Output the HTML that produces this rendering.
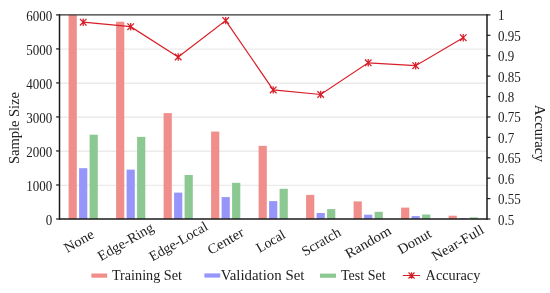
<!DOCTYPE html>
<html><head><meta charset="utf-8"><style>
html,body{margin:0;padding:0;background:#fff;width:550px;height:293px;overflow:hidden}
svg{display:block;font-family:"Liberation Serif",serif;will-change:transform}
</style></head><body>
<svg width="550" height="293" viewBox="0 0 550 293">
<rect width="550" height="293" fill="#fff"/>
<line x1="59.5" y1="185.28" x2="487.0" y2="185.28" stroke="#ebebeb" stroke-width="1.3"/>
<line x1="59.5" y1="151.27" x2="487.0" y2="151.27" stroke="#ebebeb" stroke-width="1.3"/>
<line x1="59.5" y1="117.25" x2="487.0" y2="117.25" stroke="#ebebeb" stroke-width="1.3"/>
<line x1="59.5" y1="83.23" x2="487.0" y2="83.23" stroke="#ebebeb" stroke-width="1.3"/>
<line x1="59.5" y1="49.22" x2="487.0" y2="49.22" stroke="#ebebeb" stroke-width="1.3"/>
<rect x="68.60" y="15.00" width="8.2" height="204.00" fill="#F08E8B"/>
<rect x="79.10" y="168.20" width="8.2" height="50.80" fill="#9696FA"/>
<rect x="89.60" y="134.70" width="8.2" height="84.30" fill="#8CC891"/>
<rect x="116.10" y="21.70" width="8.2" height="197.30" fill="#F08E8B"/>
<rect x="126.60" y="169.60" width="8.2" height="49.40" fill="#9696FA"/>
<rect x="137.10" y="136.90" width="8.2" height="82.10" fill="#8CC891"/>
<rect x="163.60" y="113.10" width="8.2" height="105.90" fill="#F08E8B"/>
<rect x="174.10" y="192.60" width="8.2" height="26.40" fill="#9696FA"/>
<rect x="184.60" y="175.00" width="8.2" height="44.00" fill="#8CC891"/>
<rect x="211.10" y="131.60" width="8.2" height="87.40" fill="#F08E8B"/>
<rect x="221.60" y="197.10" width="8.2" height="21.90" fill="#9696FA"/>
<rect x="232.10" y="182.80" width="8.2" height="36.20" fill="#8CC891"/>
<rect x="258.60" y="145.85" width="8.2" height="73.15" fill="#F08E8B"/>
<rect x="269.10" y="201.10" width="8.2" height="17.90" fill="#9696FA"/>
<rect x="279.60" y="188.80" width="8.2" height="30.20" fill="#8CC891"/>
<rect x="306.10" y="194.90" width="8.2" height="24.10" fill="#F08E8B"/>
<rect x="316.60" y="213.00" width="8.2" height="6.00" fill="#9696FA"/>
<rect x="327.10" y="209.10" width="8.2" height="9.90" fill="#8CC891"/>
<rect x="353.60" y="201.40" width="8.2" height="17.60" fill="#F08E8B"/>
<rect x="364.10" y="214.70" width="8.2" height="4.30" fill="#9696FA"/>
<rect x="374.60" y="211.80" width="8.2" height="7.20" fill="#8CC891"/>
<rect x="401.10" y="207.60" width="8.2" height="11.40" fill="#F08E8B"/>
<rect x="411.60" y="216.10" width="8.2" height="2.90" fill="#9696FA"/>
<rect x="422.10" y="214.50" width="8.2" height="4.50" fill="#8CC891"/>
<rect x="448.60" y="215.70" width="8.2" height="3.30" fill="#F08E8B"/>
<rect x="459.10" y="218.30" width="8.2" height="0.70" fill="#9696FA"/>
<rect x="469.60" y="217.40" width="8.2" height="1.60" fill="#8CC891"/>
<polyline points="83.20,22.20 130.70,26.70 178.20,57.00 225.70,20.60 273.20,89.90 320.70,94.50 368.20,62.80 415.70,65.70 463.20,37.70" fill="none" stroke="#D81E28" stroke-width="1.2"/>
<path d="M83.20 18.50V25.90M79.90 18.90L86.50 25.50M79.90 25.50L86.50 18.90" stroke="#D81E28" stroke-width="1.25" fill="none"/>
<path d="M130.70 23.00V30.40M127.40 23.40L134.00 30.00M127.40 30.00L134.00 23.40" stroke="#D81E28" stroke-width="1.25" fill="none"/>
<path d="M178.20 53.30V60.70M174.90 53.70L181.50 60.30M174.90 60.30L181.50 53.70" stroke="#D81E28" stroke-width="1.25" fill="none"/>
<path d="M225.70 16.90V24.30M222.40 17.30L229.00 23.90M222.40 23.90L229.00 17.30" stroke="#D81E28" stroke-width="1.25" fill="none"/>
<path d="M273.20 86.20V93.60M269.90 86.60L276.50 93.20M269.90 93.20L276.50 86.60" stroke="#D81E28" stroke-width="1.25" fill="none"/>
<path d="M320.70 90.80V98.20M317.40 91.20L324.00 97.80M317.40 97.80L324.00 91.20" stroke="#D81E28" stroke-width="1.25" fill="none"/>
<path d="M368.20 59.10V66.50M364.90 59.50L371.50 66.10M364.90 66.10L371.50 59.50" stroke="#D81E28" stroke-width="1.25" fill="none"/>
<path d="M415.70 62.00V69.40M412.40 62.40L419.00 69.00M412.40 69.00L419.00 62.40" stroke="#D81E28" stroke-width="1.25" fill="none"/>
<path d="M463.20 34.00V41.40M459.90 34.40L466.50 41.00M459.90 41.00L466.50 34.40" stroke="#D81E28" stroke-width="1.25" fill="none"/>
<path d="M59.5 14.9H487.0" stroke="#333" stroke-width="1.4"/>
<path d="M59.5 219.0H487.0" stroke="#1a1a1a" stroke-width="1.5"/>
<path d="M59.5 14.200000000000001V219.75" stroke="#1a1a1a" stroke-width="1.5"/>
<path d="M487.0 14.200000000000001V219.75" stroke="#1a1a1a" stroke-width="1.5"/>
<path d="M56.1 219.00H59.5" stroke="#1a1a1a" stroke-width="1.2"/>
<text x="52.3" y="224.90" text-anchor="end" font-family="'Liberation Serif', serif" font-size="14" fill="#222" textLength="6.5" lengthAdjust="spacingAndGlyphs">0</text>
<path d="M56.1 184.98H59.5" stroke="#1a1a1a" stroke-width="1.2"/>
<text x="52.3" y="190.88" text-anchor="end" font-family="'Liberation Serif', serif" font-size="14" fill="#222" textLength="26.0" lengthAdjust="spacingAndGlyphs">1000</text>
<path d="M56.1 150.97H59.5" stroke="#1a1a1a" stroke-width="1.2"/>
<text x="52.3" y="156.87" text-anchor="end" font-family="'Liberation Serif', serif" font-size="14" fill="#222" textLength="26.0" lengthAdjust="spacingAndGlyphs">2000</text>
<path d="M56.1 116.95H59.5" stroke="#1a1a1a" stroke-width="1.2"/>
<text x="52.3" y="122.85" text-anchor="end" font-family="'Liberation Serif', serif" font-size="14" fill="#222" textLength="26.0" lengthAdjust="spacingAndGlyphs">3000</text>
<path d="M56.1 82.93H59.5" stroke="#1a1a1a" stroke-width="1.2"/>
<text x="52.3" y="88.83" text-anchor="end" font-family="'Liberation Serif', serif" font-size="14" fill="#222" textLength="26.0" lengthAdjust="spacingAndGlyphs">4000</text>
<path d="M56.1 48.92H59.5" stroke="#1a1a1a" stroke-width="1.2"/>
<text x="52.3" y="54.82" text-anchor="end" font-family="'Liberation Serif', serif" font-size="14" fill="#222" textLength="26.0" lengthAdjust="spacingAndGlyphs">5000</text>
<path d="M56.1 14.90H59.5" stroke="#1a1a1a" stroke-width="1.2"/>
<text x="52.3" y="20.80" text-anchor="end" font-family="'Liberation Serif', serif" font-size="14" fill="#222" textLength="26.0" lengthAdjust="spacingAndGlyphs">6000</text>
<path d="M487.0 219.00H490.4" stroke="#1a1a1a" stroke-width="1.2"/>
<text x="498.0" y="224.50" font-family="'Liberation Serif', serif" font-size="14" fill="#222" textLength="16.2" lengthAdjust="spacingAndGlyphs">0.5</text>
<path d="M487.0 198.59H490.4" stroke="#1a1a1a" stroke-width="1.2"/>
<text x="498.0" y="204.09" font-family="'Liberation Serif', serif" font-size="14" fill="#222" textLength="22.8" lengthAdjust="spacingAndGlyphs">0.55</text>
<path d="M487.0 178.18H490.4" stroke="#1a1a1a" stroke-width="1.2"/>
<text x="498.0" y="183.68" font-family="'Liberation Serif', serif" font-size="14" fill="#222" textLength="16.2" lengthAdjust="spacingAndGlyphs">0.6</text>
<path d="M487.0 157.77H490.4" stroke="#1a1a1a" stroke-width="1.2"/>
<text x="498.0" y="163.27" font-family="'Liberation Serif', serif" font-size="14" fill="#222" textLength="22.8" lengthAdjust="spacingAndGlyphs">0.65</text>
<path d="M487.0 137.36H490.4" stroke="#1a1a1a" stroke-width="1.2"/>
<text x="498.0" y="142.86" font-family="'Liberation Serif', serif" font-size="14" fill="#222" textLength="16.2" lengthAdjust="spacingAndGlyphs">0.7</text>
<path d="M487.0 116.95H490.4" stroke="#1a1a1a" stroke-width="1.2"/>
<text x="498.0" y="122.45" font-family="'Liberation Serif', serif" font-size="14" fill="#222" textLength="22.8" lengthAdjust="spacingAndGlyphs">0.75</text>
<path d="M487.0 96.54H490.4" stroke="#1a1a1a" stroke-width="1.2"/>
<text x="498.0" y="102.04" font-family="'Liberation Serif', serif" font-size="14" fill="#222" textLength="16.2" lengthAdjust="spacingAndGlyphs">0.8</text>
<path d="M487.0 76.13H490.4" stroke="#1a1a1a" stroke-width="1.2"/>
<text x="498.0" y="81.63" font-family="'Liberation Serif', serif" font-size="14" fill="#222" textLength="22.8" lengthAdjust="spacingAndGlyphs">0.85</text>
<path d="M487.0 55.72H490.4" stroke="#1a1a1a" stroke-width="1.2"/>
<text x="498.0" y="61.22" font-family="'Liberation Serif', serif" font-size="14" fill="#222" textLength="16.2" lengthAdjust="spacingAndGlyphs">0.9</text>
<path d="M487.0 35.31H490.4" stroke="#1a1a1a" stroke-width="1.2"/>
<text x="498.0" y="40.81" font-family="'Liberation Serif', serif" font-size="14" fill="#222" textLength="22.8" lengthAdjust="spacingAndGlyphs">0.95</text>
<path d="M487.0 14.90H490.4" stroke="#1a1a1a" stroke-width="1.2"/>
<text x="498.0" y="20.40" font-family="'Liberation Serif', serif" font-size="14" fill="#222" textLength="6.5" lengthAdjust="spacingAndGlyphs">1</text>
<text transform="translate(18.9 128.1) rotate(-90)" text-anchor="middle" font-family="'Liberation Serif', serif" font-size="14" fill="#222" textLength="71.9" lengthAdjust="spacingAndGlyphs">Sample Size</text>
<text transform="translate(534.6 133.4) rotate(90)" text-anchor="middle" font-family="'Liberation Serif', serif" font-size="14" fill="#222" textLength="57.1" lengthAdjust="spacingAndGlyphs">Accuracy</text>
<text transform="translate(81.20 245.00) rotate(-30)" text-anchor="middle" font-family="'Liberation Serif', serif" font-size="14" fill="#222" textLength="32.1" lengthAdjust="spacingAndGlyphs">None</text>
<text transform="translate(127.90 245.70) rotate(-30)" text-anchor="middle" font-family="'Liberation Serif', serif" font-size="14" fill="#222" textLength="61.9" lengthAdjust="spacingAndGlyphs">Edge-Ring</text>
<text transform="translate(180.70 245.40) rotate(-30)" text-anchor="middle" font-family="'Liberation Serif', serif" font-size="14" fill="#222" textLength="64.9" lengthAdjust="spacingAndGlyphs">Edge-Local</text>
<text transform="translate(227.90 245.00) rotate(-30)" text-anchor="middle" font-family="'Liberation Serif', serif" font-size="14" fill="#222" textLength="39.8" lengthAdjust="spacingAndGlyphs">Center</text>
<text transform="translate(272.90 245.20) rotate(-30)" text-anchor="middle" font-family="'Liberation Serif', serif" font-size="14" fill="#222" textLength="31.2" lengthAdjust="spacingAndGlyphs">Local</text>
<text transform="translate(323.40 245.70) rotate(-30)" text-anchor="middle" font-family="'Liberation Serif', serif" font-size="14" fill="#222" textLength="42.8" lengthAdjust="spacingAndGlyphs">Scratch</text>
<text transform="translate(370.40 246.20) rotate(-30)" text-anchor="middle" font-family="'Liberation Serif', serif" font-size="14" fill="#222" textLength="50.6" lengthAdjust="spacingAndGlyphs">Random</text>
<text transform="translate(416.70 245.40) rotate(-30)" text-anchor="middle" font-family="'Liberation Serif', serif" font-size="14" fill="#222" textLength="36.4" lengthAdjust="spacingAndGlyphs">Donut</text>
<text transform="translate(459.95 246.90) rotate(-30)" text-anchor="middle" font-family="'Liberation Serif', serif" font-size="14" fill="#222" textLength="57.8" lengthAdjust="spacingAndGlyphs">Near-Full</text>
<rect x="91.4" y="273.5" width="15.8" height="4.2" fill="#F08E8B"/>
<text x="111.9" y="279.5" font-family="'Liberation Serif', serif" font-size="14" fill="#222" textLength="70.1" lengthAdjust="spacingAndGlyphs">Training Set</text>
<rect x="204.4" y="273.4" width="15.8" height="4.2" fill="#9696FA"/>
<text x="220.7" y="279.5" font-family="'Liberation Serif', serif" font-size="14" fill="#222" textLength="83.7" lengthAdjust="spacingAndGlyphs">Validation Set</text>
<rect x="320" y="273.6" width="16" height="4.2" fill="#8CC891"/>
<text x="341" y="279.5" font-family="'Liberation Serif', serif" font-size="14" fill="#222" textLength="44.6" lengthAdjust="spacingAndGlyphs">Test Set</text>
<path d="M402.8 275.5H420" stroke="#D81E28" stroke-width="1.0"/>
<path d="M411.50 272.30V278.70M408.50 272.50L414.50 278.50M408.50 278.50L414.50 272.50" stroke="#D81E28" stroke-width="1.2" fill="none"/>
<text x="425.6" y="279.5" font-family="'Liberation Serif', serif" font-size="14" fill="#222" textLength="54.7" lengthAdjust="spacingAndGlyphs">Accuracy</text>
</svg>
</body></html>
